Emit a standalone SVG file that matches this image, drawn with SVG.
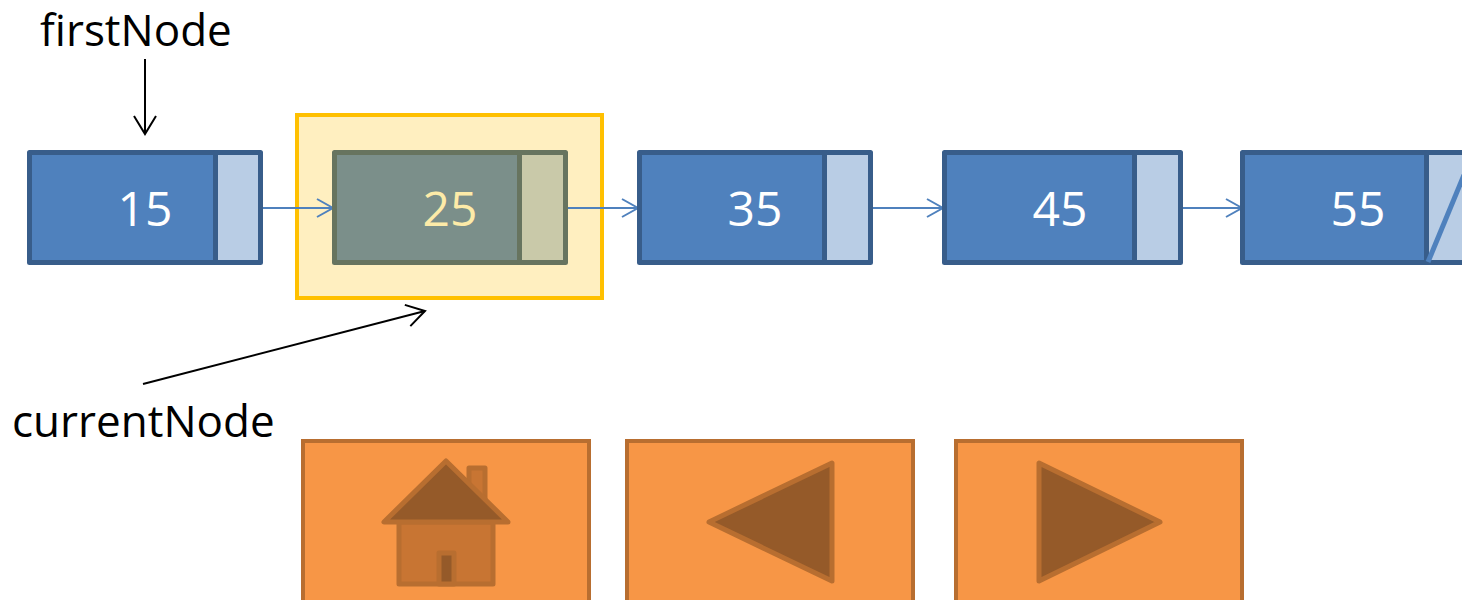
<svg xmlns="http://www.w3.org/2000/svg" width="1462" height="600" viewBox="0 0 1462 600">
<defs>
<style>
.lbl{font-family:"Open Sans","Liberation Sans",sans-serif;font-size:44px;fill:#000}
.num{font-family:"Open Sans","Liberation Sans",sans-serif;font-size:48px;fill:#fff;text-anchor:middle}
.nd{fill:#4F81BD;stroke:#385D8A;stroke-width:5;stroke-linejoin:round}
.ptr{fill:#B9CDE5;stroke:#385D8A;stroke-width:5;stroke-linejoin:round}
.nd2{fill:#7B8F8A;stroke:#67745F;stroke-width:5;stroke-linejoin:round}
.ptr2{fill:#C9C9A9;stroke:#67745F;stroke-width:5;stroke-linejoin:round}
.link{stroke:#4F81BD;stroke-width:2;fill:none;marker-end:url(#blueArr)}
.ref{stroke:#000;stroke-width:2;fill:none;marker-end:url(#blackArr)}
.btn{fill:#F79646;stroke:#B86E30;stroke-width:4}
.ico{fill:#955A29;stroke:#B86E30;stroke-width:5;stroke-linejoin:round}
.ico2{fill:#C87533;stroke:#B86E30;stroke-width:5;stroke-linejoin:round}
</style>
<marker id="blueArr" markerUnits="userSpaceOnUse" markerWidth="24" markerHeight="24" viewBox="-20 -12 24 24" refX="0" refY="0" orient="auto">
<path d="M-16,-9 L0,0 L-16,9" fill="none" stroke="#4F81BD" stroke-width="2"/>
</marker>
<marker id="blackArr" markerUnits="userSpaceOnUse" markerWidth="28" markerHeight="28" viewBox="-22 -14 26 28" refX="0" refY="0" orient="auto">
<path d="M-18,-11 L0,0 L-18,11" fill="none" stroke="#000" stroke-width="2"/>
</marker>
</defs>
<rect width="1462" height="600" fill="#fff"/>

<g id="highlight">
<rect x="297" y="115" width="305" height="183" fill="#FFEFC0" stroke="#FFC000" stroke-width="4"/>
</g>

<g id="connectors">
<line class="link" x1="262" y1="208" x2="333" y2="208"/>
<line class="link" x1="568" y1="208" x2="638" y2="208"/>
<line class="link" x1="873" y1="208" x2="943" y2="208"/>
<line class="link" x1="1183" y1="208" x2="1242" y2="208"/>
<line class="ref" x1="145" y1="59" x2="145" y2="134"/>
<line class="ref" x1="143" y1="384" x2="425" y2="311"/>
</g>

<g id="label-firstNode"><text class="lbl" x="40" y="46">firstNode</text></g>
<g id="label-currentNode"><text class="lbl" x="12" y="437">currentNode</text></g>

<g id="node15">
<rect class="nd" x="29.5" y="152.5" width="186" height="110"/>
<rect class="ptr" x="215.5" y="152.5" width="45" height="110"/>
<text class="num" x="145" y="226">15</text>
</g>
<g id="node25">
<rect class="nd2" x="334.5" y="152.5" width="185" height="110"/>
<rect class="ptr2" x="519.5" y="152.5" width="46" height="110"/>
<text class="num" x="450" y="226" fill="#FDEBA8" style="fill:#FDEBA8">25</text>
</g>
<g id="node35">
<rect class="nd" x="639.5" y="152.5" width="185" height="110"/>
<rect class="ptr" x="824.5" y="152.5" width="46" height="110"/>
<text class="num" x="755" y="226">35</text>
</g>
<g id="node45">
<rect class="nd" x="944.5" y="152.5" width="190" height="110"/>
<rect class="ptr" x="1134.5" y="152.5" width="46" height="110"/>
<text class="num" x="1060" y="226">45</text>
</g>
<g id="node55">
<rect class="nd" x="1242.5" y="152.5" width="184" height="110"/>
<rect class="ptr" x="1426.5" y="152.5" width="46" height="110"/>
<line x1="1428" y1="262" x2="1464" y2="175" stroke="#4F81BD" stroke-width="5"/>
<text class="num" x="1358" y="226">55</text>
</g>

<g id="btn-home">
<rect class="btn" x="303" y="441" width="286" height="170"/>
<rect class="ico2" x="469" y="468" width="16" height="36"/>
<rect class="ico2" x="399" y="522" width="94" height="62"/>
<rect class="ico" x="439" y="553" width="15" height="31"/>
<polygon class="ico" points="446,461 384,522 508,522"/>
</g>
<g id="btn-back">
<rect class="btn" x="627" y="441" width="286" height="170"/>
<polygon class="ico" points="832,463 832,581 709,522"/>
</g>
<g id="btn-forward">
<rect class="btn" x="956" y="441" width="286" height="170"/>
<polygon class="ico" points="1039,463 1039,581 1160,522"/>
</g>
</svg>
